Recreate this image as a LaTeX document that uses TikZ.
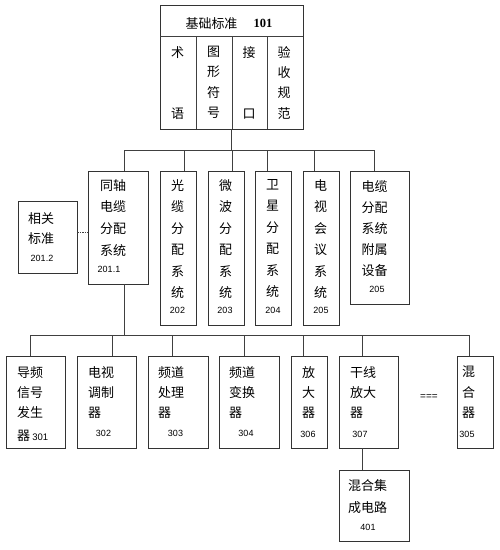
\documentclass[tikz,border=0pt]{standalone}
\usepackage{fontspec}
\usetikzlibrary{fit}
\newfontfamily\cjk{Noto Sans CJK SC}
\newfontfamily\numf{Liberation Sans}
\newfontfamily\titlenum{Liberation Serif}
\begin{document}
\begin{tikzpicture}[x=1pt,y=-1pt,
  box/.style={draw=black!80, line width=0.8pt, inner sep=0pt},
  conn/.style={draw=black!75, line width=0.8pt},
  zh/.style={font=\cjk\fontsize{13}{#1}\selectfont, inner sep=0pt, align=center, anchor=north},
  zh/.default=21.5,
  zhl/.style={font=\cjk\fontsize{13}{#1}\selectfont, inner sep=0pt, align=left, anchor=north west},
  zhl/.default=20.3,
  num/.style={font=\numf\fontsize{9}{10}\selectfont, inner sep=0pt, anchor=center}]
\fill[white] (0,0) rectangle (500,550);
\useasboundingbox (0,0) rectangle (500,550);

% ---------- top box ----------
\node[box, fit={(160,5) (303,129)}] (top) {};
\draw[conn] (160,36) -- (303,36);
\draw[conn] (196,36) -- (196,129);
\draw[conn] (232,36) -- (232,129);
\draw[conn] (267,36) -- (267,129);
\node[zh] (ttitle) at (211.5,17) {基础标准};
\node[font=\titlenum\bfseries\fontsize{12.5}{14}\selectfont, inner sep=0pt] (ntitle) at (263,23) {101};
\node[zh=20.3] (tc1) at (177.5,46) {术\\\mbox{}\\\mbox{}\\语};
\node[zh=20.3] (tc2) at (213.5,46) {图\\形\\符\\号};
\node[zh=20.3] (tc3) at (249,46) {接\\\mbox{}\\\mbox{}\\口};
\node[zh=20.3] (tc4) at (284,46) {验\\收\\规\\范};

% ---------- second row ----------
\node[box, fit={(88,171) (148,284)}] (b2011) {};
\node[box, fit={(160,171) (196,325)}] (b202) {};
\node[box, fit={(208,171) (244,325)}] (b203) {};
\node[box, fit={(255,171) (291,325)}] (b204) {};
\node[box, fit={(303,171) (339,325)}] (b205) {};
\node[box, fit={(350,171) (409,304)}] (b205b) {};
\node[box, fit={(18,201) (77,273)}] (brel) {};

\node[zh=21.7] (t2011) at (113,179) {同轴\\电缆\\分配\\系统};
\node[num] (n2011) at (109,269) {201.1};
\node[zh] (t202) at (177.5,179) {光\\缆\\分\\配\\系\\统};
\node[num] (n202) at (177.5,310) {202};
\node[zh] (t203) at (225.5,179) {微\\波\\分\\配\\系\\统};
\node[num] (n203) at (225,310) {203};
\node[zh] (t204) at (272.5,179) {卫\\星\\分\\配\\系\\统};
\node[num] (n204) at (273,310) {204};
\node[zh] (t205) at (320.5,179) {电\\视\\会\\议\\系\\统};
\node[num] (n205) at (321,310) {205};
\node[zh=21] (t205b) at (374.5,180) {电缆\\分配\\系统\\附属\\设备};
\node[num] (n205b) at (377,289) {205};
\node[zh=20] (trel) at (41,212) {相关\\标准};
\node[num] (nrel) at (42,258) {201.2};

% ---------- third row ----------
\node[box, fit={(6,356) (65,448)}] (b301) {};
\node[box, fit={(77,356) (136,448)}] (b302) {};
\node[box, fit={(148,356) (208,448)}] (b303) {};
\node[box, fit={(219,356) (279,448)}] (b304) {};
\node[box, fit={(291,356) (327,448)}] (b306) {};
\node[box, fit={(339,356) (398,448)}] (b307) {};
\node[box, fit={(457,356) (493,448)}] (b305) {};
\node[box, fit={(339,470) (409,541)}] (b401) {};

\node[zhl] (t301) at (17,366) {导频\\信号\\发生\\[2.5pt]器\,{\numf\fontsize{9.5}{10}\selectfont 301}};
\node[zhl] (t302) at (88,366) {电视\\调制\\器};
\node[num] (n302) at (103.5,433) {302};
\node[zhl] (t303) at (158,366) {频道\\处理\\器};
\node[num] (n303) at (175.5,433) {303};
\node[zhl] (t304) at (229,366) {频道\\变换\\器};
\node[num] (n304) at (246,433) {304};
\node[zh=20.3] (t306) at (308.5,366) {放\\大\\器};
\node[num] (n306) at (308,434) {306};
\node[zhl] (t307) at (350,366) {干线\\放大\\器};
\node[num] (n307) at (360,434) {307};
\node[zh=20.3] (t305) at (468.5,366) {混\\合\\器};
\node[num] (n305) at (467,434) {305};
\node[num, font=\numf\fontsize{10}{10}\selectfont] (eq) at (429,397) {===};
\node[zhl=22] (t401) at (348,479) {混合集\\成电路};
\node[num] (n401) at (368,527) {401};

% ---------- connectors: level 1 ----------
\coordinate (j0) at (231.5,150);
\coordinate (s1) at (124,150);
\coordinate (s2) at (184,150);
\coordinate (s3) at (232,150);
\coordinate (s4) at (267,150);
\coordinate (s5) at (314,150);
\coordinate (s6) at (374,150);
\draw[conn] (top.south) -- (j0);
\draw[conn] (s1) -- (s6);
\draw[conn] (s1) -- (s1 |- b2011.north);
\draw[conn] (s2) -- (s2 |- b202.north);
\draw[conn] (s3) -- (s3 |- b203.north);
\draw[conn] (s4) -- (s4 |- b204.north);
\draw[conn] (s5) -- (s5 |- b205.north);
\draw[conn] (s6) -- (s6 |- b205b.north);

\coordinate (dl) at (82,232);
\draw[conn, dash pattern=on 1.5pt off 1pt] (dl -| brel.east) -- (dl -| b2011.west);

% ---------- connectors: level 2 ----------
\coordinate (k0) at (124,335);
\coordinate (k1) at (30,335);
\coordinate (k2) at (112,335);
\coordinate (k3) at (172,335);
\coordinate (k4) at (244,335);
\coordinate (k5) at (303,335);
\coordinate (k6) at (362,335);
\coordinate (k7) at (469,335);
\draw[conn] (k0 |- b2011.south) -- (k0);
\draw[conn] (k1) -- (k7);
\draw[conn] (k1) -- (k1 |- b301.north);
\draw[conn] (k2) -- (k2 |- b302.north);
\draw[conn] (k3) -- (k3 |- b303.north);
\draw[conn] (k4) -- (k4 |- b304.north);
\draw[conn] (k5) -- (k5 |- b306.north);
\draw[conn] (k6) -- (k6 |- b307.north);
\draw[conn] (k7) -- (k7 |- b305.north);
\draw[conn] (k6 |- b307.south) -- (k6 |- b401.north);
\end{tikzpicture}
\end{document}
